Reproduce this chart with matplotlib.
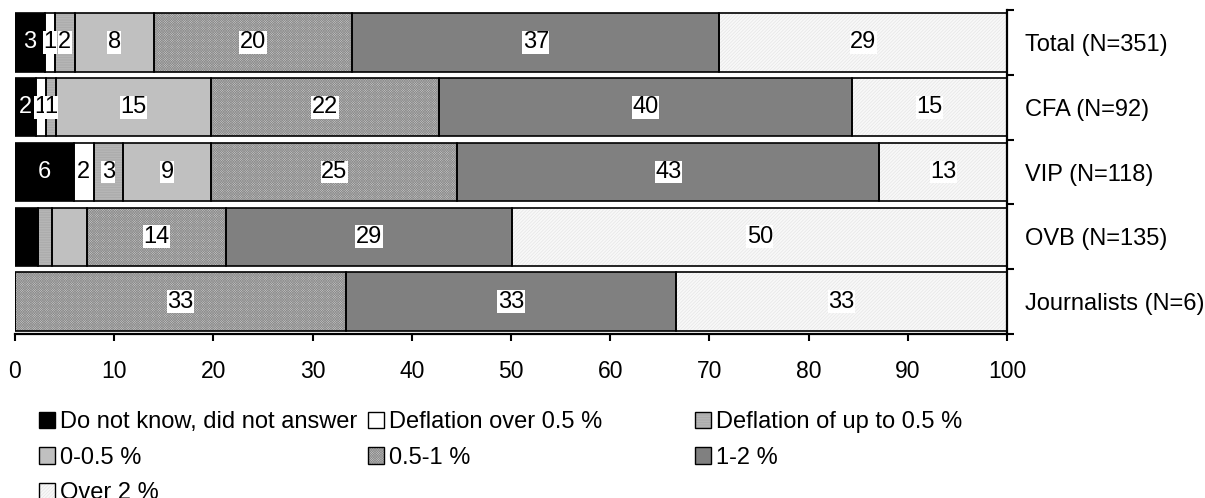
import numpy as np
import matplotlib.pyplot as plt
from matplotlib.patches import Patch
from matplotlib.legend_handler import HandlerTuple

plt.rcParams['font.family'] = ['Liberation Sans', 'DejaVu Sans']
plt.rcParams['hatch.linewidth'] = 0.45

# Survey groups (top to bottom) and answer categories (left to right)
groups = ['Total (N=351)', 'CFA (N=92)', 'VIP (N=118)', 'OVB (N=135)', 'Journalists (N=6)']
categories = ['Do not know, did not answer', 'Deflation over 0.5 %', 'Deflation of up to 0.5 %',
              '0-0.5 %', '0.5-1 %', '1-2 %', 'Over 2 %']

# Answer shares per category, one value per group
dont_know = [3, 2, 6, 2.3, 0]
defl_over = [1, 1, 2, 0, 0]
defl_upto = [2, 1, 3, 1.4, 0]
zero_half = [8, 15, 9, 3.6, 0]
half_one = [20, 22, 25, 14, 33]
one_two = [37, 40, 43, 29, 33]
over_two = [29, 15, 13, 50, 33]

# labels left out in the OVB row (group index, category index)
hidden_labels = {(3, 0), (3, 1), (3, 2), (3, 3)}

# face colour, hatch, hatch colour
styles = [
    ('#000000', None, None),
    ('#ffffff', None, None),
    ('#b8b8b8', '-' * 10, '#a6a6a6'),
    ('#c0c0c0', None, None),
    ('#c4c4c4', 'x' * 14, '#8c8c8c'),
    ('#808080', None, None),
    ('#f8f8f8', '/' * 10, '#e4e4e4'),
]

values = np.array([dont_know, defl_over, defl_upto, zero_half, half_one, one_two, over_two], dtype=float)
# 100 % stacked: scale each group to its own total
shares = values / values.sum(axis=0) * 100

fig = plt.figure(figsize=(12.05, 4.98), dpi=100)
ax = fig.add_axes([15 / 1205, 164 / 498, 992 / 1205, 324 / 498])

y = np.arange(len(groups))
left = np.zeros(len(groups))
for c, (fc, hatch, hc) in enumerate(styles):
    w = shares[c]
    ax.barh(y, w, left=left, height=0.9, color=fc, hatch=hatch,
            edgecolor=hc if hatch else fc, linewidth=0, zorder=2)
    ax.barh(y, w, left=left, height=0.9, fill=False, edgecolor='black',
            linewidth=1.2, zorder=3)
    for g in range(len(groups)):
        if values[c, g] <= 0 or (g, c) in hidden_labels:
            continue
        xc = left[g] + w[g] / 2
        txt = f'{values[c, g]:.0f}'
        if c == 0:
            ax.text(xc, y[g], txt, ha='center', va='center', fontsize=17,
                    color='white', zorder=5)
        else:
            ax.text(xc, y[g], txt, ha='center', va='center', fontsize=17,
                    color='black', zorder=5,
                    bbox=dict(boxstyle='square,pad=0.02', fc='white', ec='none'))
    left += w

ax.set_xlim(0, 100)
ax.set_ylim(len(groups) - 0.5, -0.5)
ax.set_xticks(np.arange(0, 101, 10))
ax.tick_params(axis='x', labelsize=16.5, length=5, width=1.5, pad=14, direction='out')

# category axis on the right: ticks between bars, labels centred on bars
ax.yaxis.tick_right()
ax.set_yticks(np.arange(-0.5, len(groups), 1))
ax.set_yticklabels([])
ax.set_yticks(y, minor=True)
ax.set_yticklabels(groups, minor=True, fontsize=17)
ax.tick_params(axis='y', which='major', length=5, width=1.5, direction='out')
ax.tick_params(axis='y', which='minor', length=0, pad=13)

for side in ['left', 'top']:
    ax.spines[side].set_visible(False)
for side in ['right', 'bottom']:
    ax.spines[side].set_linewidth(1.6)

# legend laid out in three fixed columns
handles = []
for fc, hatch, hc in styles:
    fill = Patch(facecolor=fc, hatch=hatch, edgecolor=hc if hatch else fc, linewidth=0)
    frame = Patch(fill=False, edgecolor='black', linewidth=1.0)
    handles.append((fill, frame))

columns = [[0, 3, 6], [1, 4], [2, 5]]
col_x = [39, 368, 695]
for idx, x0 in zip(columns, col_x):
    fig.legend([handles[i] for i in idx], [categories[i] for i in idx],
               handler_map={tuple: HandlerTuple(ndivide=1)},
               loc='upper left', bbox_to_anchor=(x0 / 1205, 87 / 498),
               frameon=False, fontsize=17, borderpad=0, borderaxespad=0,
               handlelength=0.68, handleheight=0.68, handletextpad=0.2,
               labelspacing=0.58)

fig.savefig('out.png', dpi=100)
